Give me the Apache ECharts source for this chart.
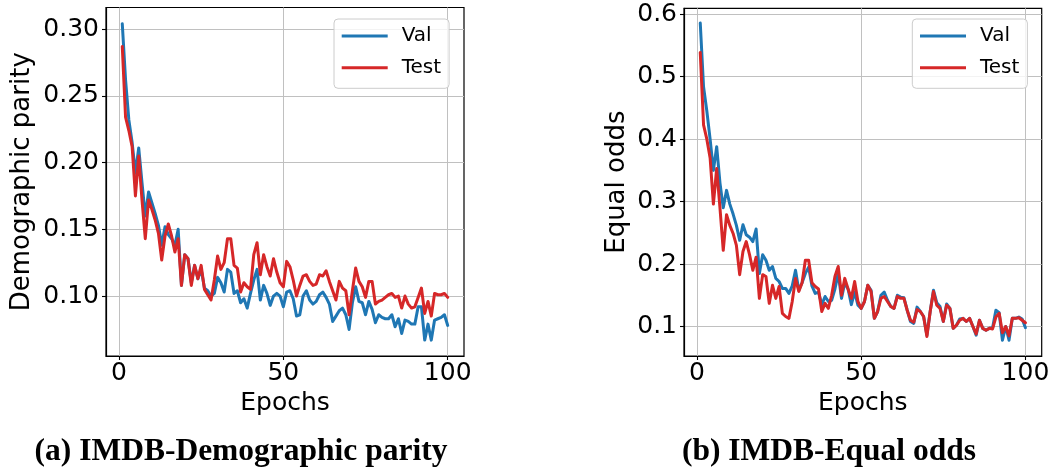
<!DOCTYPE html>
<html>
<head>
<meta charset="utf-8">
<script src="https://cdn.jsdelivr.net/npm/echarts@6/dist/echarts.min.js"></script>
<style>
html,body{margin:0;padding:0;background:#fff;}
#chart{width:1054px;height:474px;}
</style>
</head>
<body>
<div id="chart"></div>
<script>
const epochs = [1,2,3,4,5,6,7,8,9,10,11,12,13,14,15,16,17,18,19,20,21,22,23,24,25,26,27,28,29,30,31,32,33,34,35,36,37,38,39,40,41,42,43,44,45,46,47,48,49,50,51,52,53,54,55,56,57,58,59,60,61,62,63,64,65,66,67,68,69,70,71,72,73,74,75,76,77,78,79,80,81,82,83,84,85,86,87,88,89,90,91,92,93,94,95,96,97,98,99,100];

const dpVal = [0.304,0.262,0.232,0.215,0.192,0.211,0.185,0.160,0.178,0.170,
0.162,0.153,0.138,0.152,0.146,0.143,0.138,0.150,0.108,0.131,
0.128,0.110,0.123,0.113,0.120,0.106,0.104,0.100,0.102,0.114,
0.110,0.103,0.120,0.118,0.102,0.104,0.095,0.098,0.091,0.102,
0.112,0.120,0.097,0.108,0.102,0.093,0.100,0.102,0.100,0.092,
0.103,0.104,0.098,0.085,0.086,0.100,0.104,0.097,0.094,0.096,
0.101,0.103,0.099,0.094,0.081,0.085,0.089,0.091,0.086,0.075,
0.095,0.107,0.096,0.095,0.086,0.096,0.090,0.080,0.086,0.084,
0.083,0.083,0.086,0.077,0.083,0.072,0.082,0.081,0.079,0.079,
0.092,0.092,0.067,0.079,0.067,0.082,0.083,0.084,0.086,0.078];

const dpTest = [0.287,0.234,0.224,0.212,0.175,0.205,0.172,0.143,0.172,0.165,
0.157,0.147,0.127,0.145,0.154,0.145,0.133,0.143,0.108,0.131,
0.128,0.108,0.123,0.113,0.123,0.105,0.101,0.097,0.112,0.130,
0.120,0.125,0.143,0.143,0.123,0.121,0.103,0.110,0.107,0.105,
0.131,0.140,0.116,0.131,0.122,0.115,0.128,0.118,0.110,0.107,
0.126,0.122,0.112,0.100,0.108,0.115,0.116,0.111,0.108,0.109,
0.116,0.115,0.119,0.111,0.104,0.097,0.111,0.106,0.104,0.086,
0.104,0.121,0.111,0.107,0.099,0.111,0.111,0.094,0.096,0.097,
0.099,0.101,0.102,0.099,0.100,0.091,0.100,0.094,0.091,0.092,
0.099,0.106,0.087,0.096,0.085,0.102,0.101,0.101,0.102,0.099];

const eoVal = [0.586,0.484,0.445,0.400,0.350,0.388,0.330,0.290,0.318,0.296,
0.280,0.262,0.238,0.263,0.247,0.243,0.236,0.256,0.185,0.215,
0.206,0.190,0.196,0.177,0.172,0.161,0.161,0.153,0.165,0.190,
0.158,0.170,0.185,0.195,0.165,0.153,0.155,0.135,0.148,0.140,
0.142,0.160,0.185,0.145,0.170,0.160,0.135,0.155,0.134,0.129,
0.140,0.166,0.158,0.113,0.124,0.150,0.155,0.142,0.132,0.129,
0.150,0.147,0.146,0.126,0.108,0.105,0.131,0.124,0.116,0.086,
0.124,0.158,0.138,0.132,0.108,0.136,0.129,0.097,0.102,0.112,
0.113,0.108,0.113,0.100,0.086,0.110,0.097,0.094,0.097,0.098,
0.126,0.122,0.078,0.100,0.078,0.113,0.113,0.115,0.112,0.098];

const eoTest = [0.539,0.423,0.400,0.370,0.296,0.353,0.290,0.222,0.279,0.262,
0.249,0.230,0.183,0.220,0.236,0.215,0.190,0.211,0.145,0.183,
0.180,0.137,0.166,0.145,0.164,0.121,0.116,0.113,0.140,0.177,
0.156,0.170,0.206,0.206,0.170,0.164,0.160,0.124,0.137,0.129,
0.150,0.180,0.196,0.150,0.177,0.160,0.145,0.172,0.140,0.129,
0.140,0.166,0.156,0.113,0.124,0.145,0.148,0.140,0.132,0.129,
0.148,0.145,0.145,0.126,0.110,0.107,0.127,0.124,0.116,0.084,
0.124,0.156,0.134,0.129,0.108,0.134,0.129,0.097,0.102,0.110,
0.113,0.108,0.113,0.100,0.088,0.110,0.097,0.094,0.097,0.096,
0.115,0.121,0.090,0.100,0.085,0.113,0.113,0.114,0.110,0.106];

const epochTicks = [0, 50, 100];
const dpTicks = [0.10, 0.15, 0.20, 0.25, 0.30];
const eoTicks = [0.1, 0.2, 0.3, 0.4, 0.5, 0.6];
const seriesNames = ['Val', 'Test'];
const captions = ['(a) IMDB-Demographic parity', '(b) IMDB-Equal odds'];
const yNames = ['Demographic parity', 'Equal odds'];

const BLUE = '#1f77b4', RED = '#d62728';
const FONT = 'DejaVu Sans';

function pairs(ys) { return epochs.map((e, i) => [e, ys[i]]); }

function xAxisCfg(gi) {
  return {
    type: 'value', gridIndex: gi, min: -3.95, max: 104.95,
    axisLine: { show: true, onZero: false, lineStyle: { color: '#000', width: 1.2 } },
    axisTick: { show: true, customValues: epochTicks, length: 4, lineStyle: { color: '#000', width: 1.1 } },
    axisLabel: { customValues: epochTicks, fontSize: 25, fontFamily: FONT, color: '#000', margin: 5 },
    splitLine: { show: true, lineStyle: { color: '#c0c0c0', width: 1 } },
    name: 'Epochs', nameLocation: 'middle', nameGap: 34,
    nameTextStyle: { fontSize: 25, fontFamily: FONT, color: '#000' }
  };
}
function yAxisCfg(gi, min, max, ticks, dec, name, gap) {
  return {
    type: 'value', gridIndex: gi, min: min, max: max,
    axisLine: { show: true, onZero: false, lineStyle: { color: '#000', width: 1.2 } },
    axisTick: { show: true, customValues: ticks, length: 4, lineStyle: { color: '#000', width: 1.1 } },
    axisLabel: { customValues: ticks, fontSize: 25, fontFamily: FONT, color: '#000', margin: 7,
      formatter: v => Number(v).toFixed(dec) },
    splitLine: { show: true, lineStyle: { color: '#c0c0c0', width: 1 } },
    name: name, nameLocation: 'middle', nameGap: gap,
    nameTextStyle: { fontSize: 26, fontFamily: FONT, color: '#000' }
  };
}
function lineSeries(name, color, gi, ys, z) {
  return {
    type: 'line', name: name, xAxisIndex: gi, yAxisIndex: gi, data: pairs(ys),
    symbol: 'none', showSymbol: false, smooth: false, z: z,
    lineStyle: { color: color, width: 3, join: 'round', cap: 'round' },
    itemStyle: { color: color }
  };
}
function legendCfg(left) {
  return {
    data: seriesNames, orient: 'vertical', left: left, top: 19,
    icon: 'rect', itemWidth: 46, itemHeight: 3, itemGap: 11.7,
    padding: [7, 8, 10.6, 7.7],
    backgroundColor: 'rgba(255,255,255,0.8)', borderColor: '#cccccc', borderWidth: 1, borderRadius: 4,
    textStyle: { fontSize: 20, fontFamily: FONT, color: '#000', padding: [0, 0, 0, 9] },
    selectedMode: false
  };
}

const chart = echarts.init(document.getElementById('chart'), null, { renderer: 'canvas' });
chart.setOption({
  animation: false,
  backgroundColor: '#fff',
  grid: [
    { left: 106, top: 7.5, right: 590, bottom: 118, show: true, borderColor: '#000', borderWidth: 1.2, backgroundColor: 'transparent' },
    { left: 684, top: 8.3, right: 12.3, bottom: 118, show: true, borderColor: '#000', borderWidth: 1.2, backgroundColor: 'transparent' }
  ],
  xAxis: [xAxisCfg(0), xAxisCfg(1)],
  yAxis: [
    yAxisCfg(0, 0.0551, 0.3162, dpTicks, 2, yNames[0], 71),
    yAxisCfg(1, 0.0527, 0.6096, eoTicks, 1, yNames[1], 54)
  ],
  legend: [legendCfg(334), legendCfg(912.3)],
  series: [
    lineSeries(seriesNames[0], BLUE, 0, dpVal, 2),
    lineSeries(seriesNames[1], RED, 0, dpTest, 3),
    lineSeries(seriesNames[0], BLUE, 1, eoVal, 2),
    lineSeries(seriesNames[1], RED, 1, eoTest, 3)
  ],
  graphic: [
    { type: 'text', x: 241, y: 452, style: { text: captions[0], align: 'center', verticalAlign: 'middle', font: 'bold 31.5px "Liberation Serif"', fill: '#000' } },
    { type: 'text', x: 829, y: 452, style: { text: captions[1], align: 'center', verticalAlign: 'middle', font: 'bold 31.5px "Liberation Serif"', fill: '#000' } }
  ]
});
</script>
</body>
</html>
